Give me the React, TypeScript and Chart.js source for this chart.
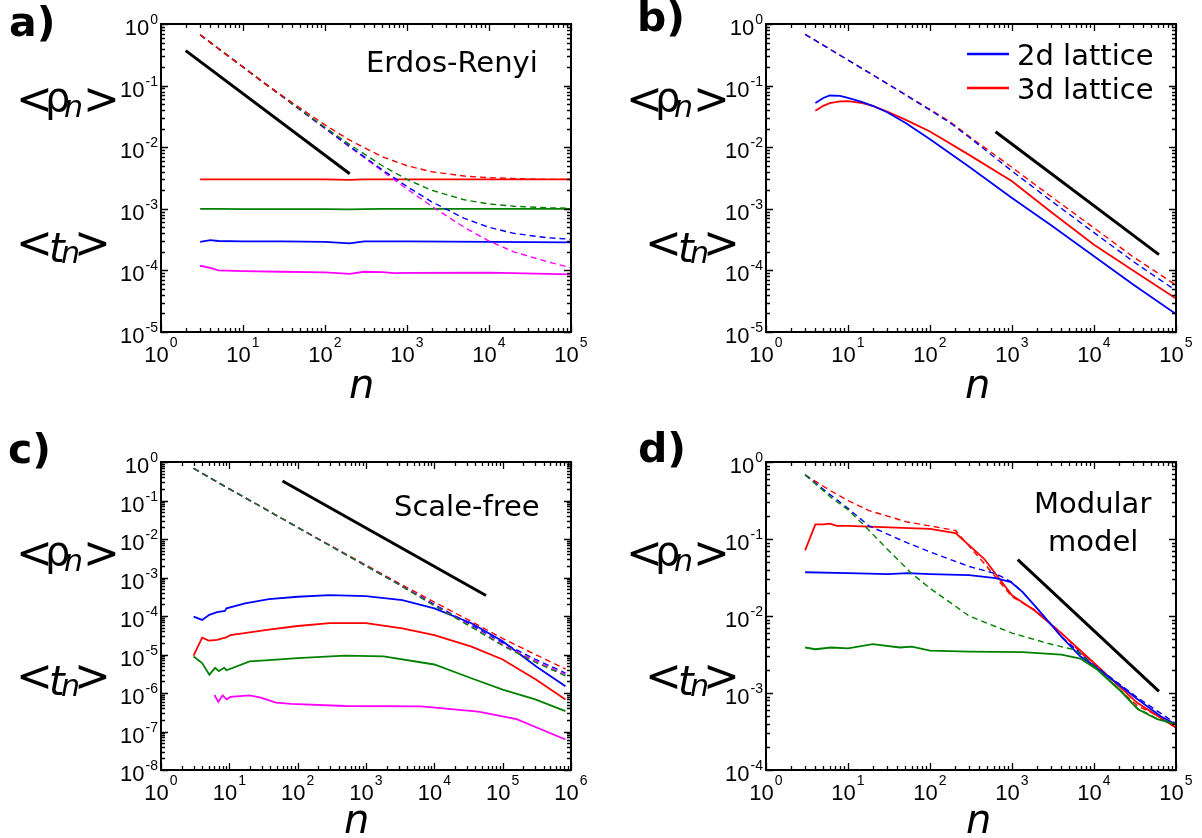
import React, { useEffect, useRef } from "react";
import { Chart, registerables } from "chart.js";

Chart.register(...registerables);

// ---------------- DATA ----------------
// a) Erdos-Renyi
const A_SOLID_N = [3, 4, 5, 10, 30, 100, 200, 300, 500, 700, 1000, 10000, 100000];
const A_RED_T = [3e-3, 3e-3, 3e-3, 3e-3, 3e-3, 3e-3, 2.95e-3, 3e-3, 3e-3, 3e-3, 3e-3, 3e-3, 3e-3];
const A_GREEN_T = [1e-3, 1e-3, 1e-3, 0.99e-3, 0.99e-3, 0.99e-3, 0.98e-3, 0.99e-3, 1e-3, 1e-3, 1e-3, 1e-3, 1e-3];
const A_BLUE_T = [2.9e-4, 3.1e-4, 3.0e-4, 2.95e-4, 2.95e-4, 2.9e-4, 2.75e-4, 2.95e-4, 2.95e-4, 2.95e-4, 2.95e-4, 2.9e-4, 2.85e-4];
const A_MAG_T = [1.19e-4, 1.1e-4, 1.0e-4, 9.7e-5, 9.5e-5, 9.3e-5, 8.8e-5, 9.5e-5, 9.4e-5, 9.0e-5, 9.1e-5, 9.2e-5, 8.6e-5];
const A_DASH_N = [3, 5, 10, 20, 50, 100, 200, 500, 1000, 2000, 5000, 10000, 20000, 50000, 100000];
const A_RED_RHO = [0.67, 0.4, 0.2, 0.1, 0.043, 0.023, 0.013, 0.007, 0.005, 0.004, 0.0034, 0.0032, 0.0031, 0.003, 0.003];
const A_GREEN_RHO = [0.67, 0.4, 0.2, 0.1, 0.041, 0.021, 0.011, 0.005, 0.003, 0.002, 0.0014, 0.0012, 0.0011, 0.00104, 0.00102];
const A_BLUE_RHO = [0.67, 0.4, 0.2, 0.1, 0.0403, 0.0203, 0.0103, 0.0043, 0.0023, 0.0013, 7e-4, 5e-4, 4e-4, 3.4e-4, 3.2e-4];
const A_MAG_RHO = [0.67, 0.4, 0.2, 0.1, 0.0401, 0.0201, 0.0101, 0.0041, 0.0021, 0.0011, 5e-4, 3e-4, 2e-4, 1.4e-4, 1.1e-4];
const A_GUIDE_N = [2, 200];
const A_GUIDE_V = [0.37, 0.0037];

// b) lattices
const B_DASH_N = [3, 10, 30, 100, 175, 300, 1000, 3000, 10000, 30000, 100000];
const B_RED_RHO = [0.68, 0.26, 0.108, 0.041, 0.026, 0.015, 4.7e-3, 1.58e-3, 4.9e-4, 1.66e-4, 5.8e-5];
const B_BLUE_RHO = [0.68, 0.26, 0.108, 0.04, 0.025, 0.0145, 4.1e-3, 1.35e-3, 4.1e-4, 1.4e-4, 4.7e-5];
const B_SOLID_N = [4, 5, 6, 8, 10, 15, 20, 30, 50, 100, 300, 1000, 3000, 10000, 30000, 100000];
const B_BLUE_T = [0.052, 0.063, 0.069, 0.068, 0.063, 0.054, 0.047, 0.037, 0.025, 0.0135, 4.8e-3, 1.5e-3, 5.4e-4, 1.7e-4, 5.9e-5, 1.95e-5];
const B_RED_T = [0.039, 0.047, 0.052, 0.0555, 0.056, 0.052, 0.047, 0.038, 0.028, 0.018, 7.5e-3, 2.8e-3, 8.9e-4, 2.6e-4, 1e-4, 3.5e-5];
const B_GUIDE_N = [630, 62000];
const B_GUIDE_V = [0.0178, 1.8e-4];

// c) Scale-free
const C_DASH_N = [3, 10, 30, 100, 300, 1000, 3000, 10000, 30000, 100000, 300000, 830000];
const C_RED_RHO = [0.68, 0.2, 0.067, 0.02, 6.8e-3, 2.1e-3, 7.2e-4, 2.3e-4, 8.3e-5, 2.6e-5, 1e-5, 4.2e-6];
const C_BLUE_RHO = [0.68, 0.2, 0.067, 0.02, 6.7e-3, 2.0e-3, 6.8e-4, 2.0e-4, 6.8e-5, 2e-5, 7.5e-6, 3.3e-6];
const C_MAG_RHO = [0.68, 0.2, 0.067, 0.02, 6.7e-3, 2.0e-3, 6.7e-4, 1.9e-4, 6.2e-5, 1.8e-5, 6.8e-6, 3.0e-6];
const C_GREEN_RHO = [0.68, 0.2, 0.067, 0.02, 6.6e-3, 2.0e-3, 6.6e-4, 1.85e-4, 6e-5, 1.7e-5, 6.3e-6, 2.8e-6];
const C_BLUE_N = [3, 4, 5.1, 6.6, 8.6, 9.1, 17, 38, 100, 295, 1000, 3400, 10000, 35000, 100000, 310000, 830000];
const C_BLUE_T = [9.6e-5, 7.9e-5, 1.07e-4, 1.26e-4, 1.35e-4, 1.58e-4, 2.14e-4, 2.75e-4, 3.16e-4, 3.47e-4, 3.3e-4, 2.57e-4, 1.58e-4, 6.5e-5, 2.2e-5, 4.9e-6, 1.5e-6];
const C_RED_N = [3, 4, 5, 6.6, 9, 10.4, 38, 100, 295, 1000, 3400, 10000, 35000, 100000, 310000, 830000];
const C_RED_T = [9.3e-6, 2.75e-5, 2.3e-5, 2.4e-5, 2.8e-5, 3.2e-5, 4.4e-5, 5.5e-5, 6.5e-5, 6.5e-5, 4.8e-5, 3.2e-5, 1.6e-5, 7.4e-6, 2.2e-6, 6.8e-7];
const C_GREEN_N = [3, 4, 5.1, 6.2, 7, 8.4, 9.1, 19.8, 38, 100, 490, 1800, 10000, 34000, 100000, 300000, 830000];
const C_GREEN_T = [8.9e-6, 6e-6, 3e-6, 4.5e-6, 3.7e-6, 4.5e-6, 3.9e-6, 6.6e-6, 7.1e-6, 8.1e-6, 9.3e-6, 8.9e-6, 5.5e-6, 2.45e-6, 1.23e-6, 6.8e-7, 3.4e-7];
const C_MAG_N = [6.05, 6.9, 8, 9.1, 10.4, 19.7, 29, 48, 81, 490, 6400, 44000, 160000, 830000];
const C_MAG_T = [8.9e-7, 5.9e-7, 8.7e-7, 6.8e-7, 7.9e-7, 8.7e-7, 7.6e-7, 5.6e-7, 5.2e-7, 4.6e-7, 4.5e-7, 3.3e-7, 2.1e-7, 6.2e-8];
const C_GUIDE_N = [60, 57000];
const C_GUIDE_V = [0.32, 3.4e-4];

// d) Modular model
const D_RED_DASH_N = [3, 6.2, 10, 18, 53, 100, 205, 460, 1000, 1900, 4000, 10000, 34000, 100000];
const D_RED_RHO = [0.68, 0.42, 0.316, 0.234, 0.166, 0.148, 0.129, 0.048, 0.0178, 0.012, 6e-3, 2.24e-3, 6.8e-4, 3.9e-4];
const D_RED_N = [3, 4, 5, 6, 7.3, 10, 100, 205, 460, 1000, 1900, 4000, 10000, 34000, 100000];
const D_RED_T = [0.071, 0.155, 0.155, 0.158, 0.148, 0.148, 0.135, 0.119, 0.055, 0.0186, 0.0117, 6e-3, 2.45e-3, 7.4e-4, 3.55e-4];
const D_BLUE_N = [3, 10, 31, 53, 100, 300, 630, 970, 1350, 2100, 4000, 6800, 10000, 20000, 34000, 65000, 100000];
const D_BLUE_T = [0.037, 0.036, 0.035, 0.036, 0.035, 0.034, 0.031, 0.0275, 0.0204, 0.012, 5.4e-3, 3e-3, 2.24e-3, 1.29e-3, 8.3e-4, 5e-4, 3.9e-4];
const D_BLUE_DASH_N = [3, 6.2, 10, 18, 53, 100, 300, 630, 970, 1350, 2100, 4000, 10000, 34000, 100000];
const D_BLUE_RHO = [0.68, 0.37, 0.25, 0.148, 0.089, 0.068, 0.044, 0.0355, 0.028, 0.0204, 0.012, 5.4e-3, 2.3e-3, 8.7e-4, 4e-4];
const D_GREEN_DASH_N = [3, 6.2, 10, 16, 30, 60, 100, 300, 1000, 3000, 6000, 11000, 20000, 34000, 58000, 100000];
const D_GREEN_RHO = [0.68, 0.347, 0.24, 0.148, 0.074, 0.0355, 0.0229, 0.01, 6e-3, 4.3e-3, 3.6e-3, 2.04e-3, 1.15e-3, 6.3e-4, 4.7e-4, 3.9e-4];
const D_GREEN_N = [3, 4, 6.2, 10, 20, 43, 60, 100, 300, 1350, 4000, 6800, 11000, 20000, 34000, 58000, 100000];
const D_GREEN_T = [3.9e-3, 3.7e-3, 3.9e-3, 3.8e-3, 4.3e-3, 3.9e-3, 4.0e-3, 3.55e-3, 3.45e-3, 3.4e-3, 3.16e-3, 2.8e-3, 2e-3, 1.12e-3, 6.2e-4, 4.6e-4, 3.9e-4];
const D_GUIDE_N = [1175, 62000];
const D_GUIDE_V = [0.054, 1.05e-3];

// ---------------- STYLE / LAYOUT ----------------
const RED = "#ff0000";
const GREEN = "#008000";
const BLUE = "#0000ff";
const MAG = "#ff00ff";
const BLACK = "#000000";

const F_BIG = '44px "DejaVu Sans"';
const F_RHO = '40px "DejaVu Sans"';
const F_IT = 'italic 40px "DejaVu Sans"';
const F_SUB = 'italic 30px "DejaVu Sans"';
const F_LET = 'bold 41px "DejaVu Sans"';
const F_TITLE = '29px "DejaVu Sans"';
const F_TICK = '22px "Liberation Sans", Arial, sans-serif';
const F_EXP = '14px "Liberation Sans", Arial, sans-serif';

type Series = { xs: number[]; ys: number[]; color: string; dashed?: boolean; width?: number };
type Txt = { t: string; f: string; x: number; y: number };
type Seg = { x1: number; y1: number; x2: number; y2: number; color: string; w: number };
type PanelCfg = {
  ox: number; oy: number; w: number; h: number;
  area: [number, number, number, number];
  xMaxExp: number; yMinExp: number;
  series: Series[]; // drawn bottom -> top
  texts: Txt[];
  segs: Seg[];
};

const rhoLabel = (x: number, y: number): Txt[] => [
  { t: "<", f: F_BIG, x, y },
  { t: "ρ", f: F_RHO, x: x + 28, y },
  { t: "n", f: F_SUB, x: x + 45, y: y + 12 },
  { t: ">", f: F_BIG, x: x + 67, y },
];
const tLabel = (x: number, y: number): Txt[] => [
  { t: "<", f: F_BIG, x, y },
  { t: "t", f: F_IT, x: x + 31, y: y + 1 },
  { t: "n", f: F_SUB, x: x + 42, y: y + 14 },
  { t: ">", f: F_BIG, x: x + 58, y },
];

const S = (xs: number[], ys: number[], color: string, dashed = false, width?: number): Series => ({ xs, ys, color, dashed, width });

const PANELS: PanelCfg[] = [
  {
    ox: 0, oy: 0, w: 601, h: 419, area: [161, 24, 571, 332], xMaxExp: 5, yMinExp: -5,
    series: [
      S(A_SOLID_N, A_MAG_T, MAG), S(A_SOLID_N, A_BLUE_T, BLUE), S(A_SOLID_N, A_GREEN_T, GREEN), S(A_SOLID_N, A_RED_T, RED),
      S(A_DASH_N, A_MAG_RHO, MAG, true), S(A_DASH_N, A_BLUE_RHO, BLUE, true), S(A_DASH_N, A_GREEN_RHO, GREEN, true), S(A_DASH_N, A_RED_RHO, RED, true),
      S(A_GUIDE_N, A_GUIDE_V, BLACK, false, 3),
    ],
    texts: [
      { t: "a)", f: F_LET, x: 10, y: 5 },
      ...rhoLabel(20, 88), ...tLabel(20, 232),
      { t: "n", f: F_IT, x: 350, y: 375 },
      { t: "Erdos-Renyi", f: F_TITLE, x: 368, y: 50 },
    ],
    segs: [],
  },
  {
    ox: 601, oy: 0, w: 601, h: 419, area: [766, 24, 1176, 332], xMaxExp: 5, yMinExp: -5,
    series: [
      S(B_SOLID_N, B_RED_T, RED), S(B_SOLID_N, B_BLUE_T, BLUE),
      S(B_DASH_N, B_RED_RHO, RED, true), S(B_DASH_N, B_BLUE_RHO, BLUE, true),
      S(B_GUIDE_N, B_GUIDE_V, BLACK, false, 3),
    ],
    texts: [
      { t: "b)", f: F_LET, x: 640, y: 0 },
      ...rhoLabel(630, 88), ...tLabel(649, 232),
      { t: "n", f: F_IT, x: 966, y: 375 },
      { t: "2d lattice", f: F_TITLE, x: 1019, y: 43 },
      { t: "3d lattice", f: F_TITLE, x: 1019, y: 77 },
    ],
    segs: [
      { x1: 967, y1: 54, x2: 1009, y2: 54, color: BLUE, w: 2.5 },
      { x1: 967, y1: 88, x2: 1009, y2: 88, color: RED, w: 2.5 },
    ],
  },
  {
    ox: 0, oy: 419, w: 601, h: 419, area: [161, 462, 571, 770], xMaxExp: 6, yMinExp: -8,
    series: [
      S(C_MAG_N, C_MAG_T, MAG), S(C_GREEN_N, C_GREEN_T, GREEN), S(C_RED_N, C_RED_T, RED), S(C_BLUE_N, C_BLUE_T, BLUE),
      S(C_DASH_N, C_RED_RHO, RED, true), S(C_DASH_N, C_BLUE_RHO, BLUE, true), S(C_DASH_N, C_MAG_RHO, MAG, true), S(C_DASH_N, C_GREEN_RHO, GREEN, true),
      S(C_GUIDE_N, C_GUIDE_V, BLACK, false, 3),
    ],
    texts: [
      { t: "c)", f: F_LET, x: 9, y: 432 },
      ...rhoLabel(20, 542), ...tLabel(20, 665),
      { t: "n", f: F_IT, x: 345, y: 810 },
      { t: "Scale-free", f: F_TITLE, x: 395, y: 494 },
    ],
    segs: [],
  },
  {
    ox: 601, oy: 419, w: 601, h: 419, area: [766, 462, 1176, 770], xMaxExp: 5, yMinExp: -4,
    series: [
      S(D_RED_DASH_N, D_RED_RHO, RED, true), S(D_RED_N, D_RED_T, RED),
      S(D_BLUE_DASH_N, D_BLUE_RHO, BLUE, true), S(D_BLUE_N, D_BLUE_T, BLUE),
      S(D_GREEN_DASH_N, D_GREEN_RHO, GREEN, true), S(D_GREEN_N, D_GREEN_T, GREEN),
      S(D_GUIDE_N, D_GUIDE_V, BLACK, false, 3),
    ],
    texts: [
      { t: "d)", f: F_LET, x: 639, y: 431 },
      ...rhoLabel(630, 542), ...tLabel(649, 665),
      { t: "n", f: F_IT, x: 967, y: 810 },
      { t: "Modular", f: F_TITLE, x: 1036, y: 491 },
      { t: "model", f: F_TITLE, x: 1050, y: 529 },
    ],
    segs: [],
  },
];

// ---------------- DRAWING ----------------
function drawInk(ctx: CanvasRenderingContext2D, t: Txt, ox: number, oy: number) {
  ctx.font = t.f;
  ctx.textAlign = "left";
  ctx.textBaseline = "alphabetic";
  const m = ctx.measureText(t.t);
  ctx.fillText(t.t, t.x - ox + m.actualBoundingBoxLeft, t.y - oy + m.actualBoundingBoxAscent);
}

function decor(cfg: PanelCfg) {
  return {
    id: "decor",
    afterDraw(chart: any) {
      const ctx = chart.ctx as CanvasRenderingContext2D;
      const { left, top, right, bottom } = chart.chartArea;
      const xs = chart.scales.x;
      const ys = chart.scales.y;
      ctx.save();
      ctx.strokeStyle = BLACK;
      ctx.fillStyle = BLACK;
      // minor/major ticks, inward on all sides
      ctx.lineWidth = 1.3;
      ctx.beginPath();
      const xMax = Math.pow(10, cfg.xMaxExp);
      for (let k = 0; k <= cfg.xMaxExp; k++) {
        for (let m = 1; m <= 9; m++) {
          const v = m * Math.pow(10, k);
          if (v > xMax * 1.0001) break;
          const px = Math.round(xs.getPixelForValue(v)) + 0.5;
          const len = m === 1 ? 7 : 4;
          ctx.moveTo(px, bottom); ctx.lineTo(px, bottom - len);
          ctx.moveTo(px, top); ctx.lineTo(px, top + len);
        }
      }
      for (let k = cfg.yMinExp; k <= 0; k++) {
        for (let m = 1; m <= 9; m++) {
          const v = m * Math.pow(10, k);
          if (v > 1.0001) break;
          const py = Math.round(ys.getPixelForValue(v)) + 0.5;
          const len = m === 1 ? 7 : 4;
          ctx.moveTo(left, py); ctx.lineTo(left + len, py);
          ctx.moveTo(right, py); ctx.lineTo(right - len, py);
        }
      }
      ctx.stroke();
      // frame
      ctx.lineWidth = 2;
      ctx.strokeRect(left, top, right - left, bottom - top);

      // decade labels
      ctx.textBaseline = "alphabetic";
      ctx.textAlign = "left";
      for (let k = 0; k <= cfg.xMaxExp; k++) {
        const px = xs.getPixelForValue(Math.pow(10, k));
        const e = String(k);
        ctx.font = F_TICK; const w10 = ctx.measureText("10").width;
        ctx.font = F_EXP; const we = ctx.measureText(e).width;
        const x0 = px - (w10 + 1 + we) / 2;
        ctx.font = F_TICK; ctx.fillText("10", x0, bottom + 30);
        ctx.font = F_EXP; ctx.fillText(e, x0 + w10 + 1, bottom + 15);
      }
      for (let k = cfg.yMinExp; k <= 0; k++) {
        const py = ys.getPixelForValue(Math.pow(10, k));
        const e = String(k);
        ctx.font = F_TICK; const w10 = ctx.measureText("10").width;
        ctx.font = F_EXP; const we = ctx.measureText(e).width;
        const x0 = left - 3 - (w10 + 1 + we);
        ctx.font = F_TICK; ctx.fillText("10", x0, py + 11);
        ctx.font = F_EXP; ctx.fillText(e, x0 + w10 + 1, py);
      }

      // legend segments
      for (const s of cfg.segs) {
        ctx.strokeStyle = s.color; ctx.lineWidth = s.w;
        ctx.beginPath();
        ctx.moveTo(s.x1 - cfg.ox, s.y1 - cfg.oy); ctx.lineTo(s.x2 - cfg.ox, s.y2 - cfg.oy);
        ctx.stroke();
      }
      // texts
      ctx.fillStyle = BLACK;
      for (const t of cfg.texts) drawInk(ctx, t, cfg.ox, cfg.oy);
      ctx.restore();
    },
  };
}

function Panel({ cfg }: { cfg: PanelCfg }) {
  const ref = useRef<HTMLCanvasElement | null>(null);
  useEffect(() => {
    const canvas = ref.current;
    if (!canvas) return;
    const ordered = [...cfg.series].reverse(); // dataset 0 is drawn on top
    const chart = new Chart(canvas, {
      type: "line",
      data: {
        datasets: ordered.map((s) => ({
          data: s.xs.map((x, i) => ({ x, y: s.ys[i] })),
          borderColor: s.color,
          borderWidth: s.width ?? (s.dashed ? 1.4 : 1.8),
          borderDash: s.dashed ? [6, 4] : [],
          pointRadius: 0,
          pointHoverRadius: 0,
          fill: false,
          tension: 0,
        })),
      },
      options: {
        animation: false,
        responsive: false,
        devicePixelRatio: 1,
        events: [],
        layout: {
          padding: {
            left: cfg.area[0] - cfg.ox,
            top: cfg.area[1] - cfg.oy,
            right: cfg.ox + cfg.w - cfg.area[2],
            bottom: cfg.oy + cfg.h - cfg.area[3],
          },
        },
        plugins: { legend: { display: false }, tooltip: { enabled: false }, title: { display: false } },
        scales: {
          x: { type: "logarithmic", min: 1, max: Math.pow(10, cfg.xMaxExp), display: false },
          y: { type: "logarithmic", min: Math.pow(10, cfg.yMinExp), max: 1, display: false },
        },
      } as any,
      plugins: [decor(cfg)],
    });
    return () => chart.destroy();
  }, [cfg]);
  return (
    <canvas
      ref={ref}
      width={cfg.w}
      height={cfg.h}
      style={{ position: "absolute", left: cfg.ox, top: cfg.oy, width: cfg.w, height: cfg.h, display: "block" }}
    />
  );
}

export default function App() {
  return (
    <div style={{ position: "absolute", left: 0, top: 0, width: 1202, height: 838, background: "#ffffff", overflow: "hidden" }}>
      {PANELS.map((p, i) => (
        <Panel key={i} cfg={p} />
      ))}
    </div>
  );
}
